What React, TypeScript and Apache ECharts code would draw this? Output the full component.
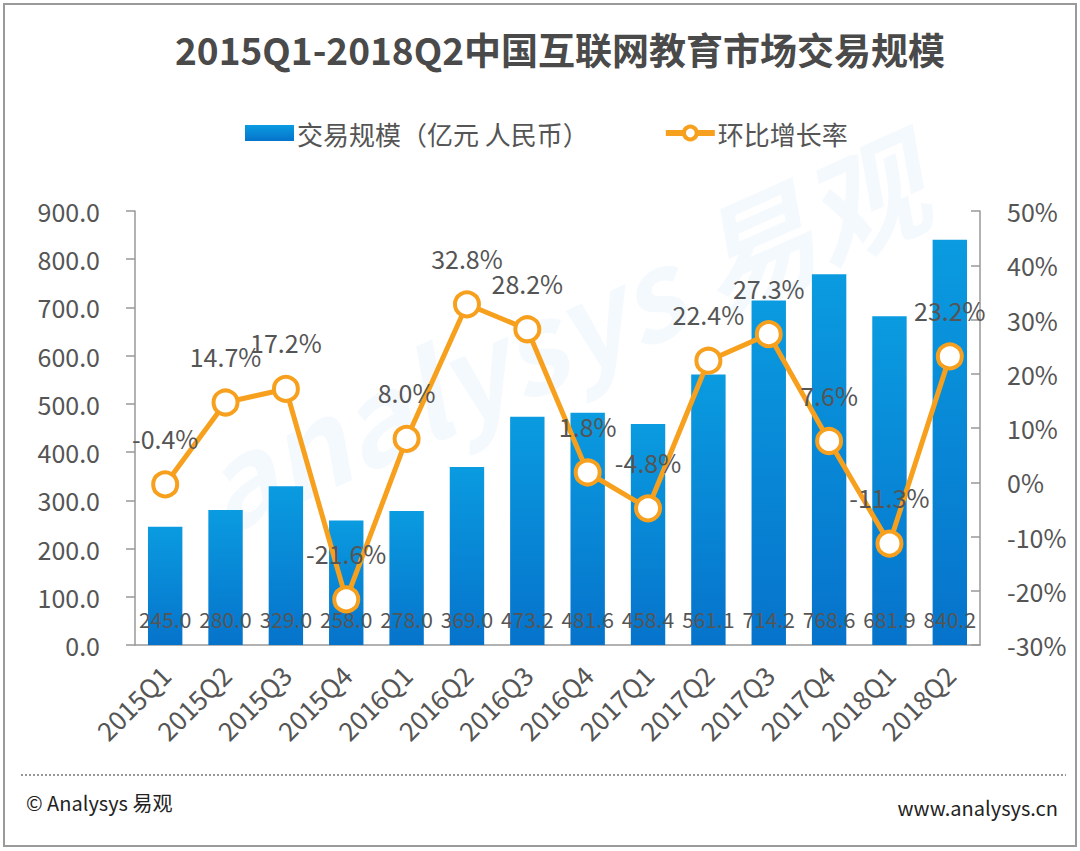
import React, { useEffect, useRef } from "react";
import * as echarts from "echarts";

const categories = [
  "2015Q1", "2015Q2", "2015Q3", "2015Q4",
  "2016Q1", "2016Q2", "2016Q3", "2016Q4",
  "2017Q1", "2017Q2", "2017Q3", "2017Q4",
  "2018Q1", "2018Q2",
];
const scaleValues = [245.0, 280.0, 329.0, 258.0, 278.0, 369.0, 473.2, 481.6, 458.4, 561.1, 714.2, 768.6, 681.9, 840.2];
const growthValues = [-0.4, 14.7, 17.2, -21.6, 8.0, 32.8, 28.2, 1.8, -4.8, 22.4, 27.3, 7.6, -11.3, 23.2];

const titleText = "2015Q1-2018Q2中国互联网教育市场交易规模";
const barName = "交易规模（亿元 人民币）";
const lineName = "环比增长率";

const FONT = "'Noto Sans CJK SC', 'Noto Sans', sans-serif";
const TEXT = "#555555";
const ORANGE = "#F7A01E";

export default function App() {
  const ref = useRef<HTMLDivElement>(null);

  useEffect(() => {
    document.body.style.margin = "0";
    if (!ref.current) return;
    const chart = echarts.init(ref.current, undefined, { renderer: "svg" });
    const option = {
      animation: false,
      backgroundColor: "#ffffff",
      textStyle: { fontFamily: FONT },
      title: {
        text: titleText,
        left: 170,
        top: 25,
        textStyle: { fontFamily: FONT, fontSize: 37, fontWeight: "bold", color: "#4a4a4a" },
      },
      legend: {
        top: 115,
        left: 240,
        itemGap: 74,
        itemWidth: 49,
        itemHeight: 16,
        textStyle: { fontFamily: FONT, fontSize: 26, color: TEXT, padding: [0, 0, 0, -2] },
        data: [
          { name: barName, icon: "rect" },
          {
            name: lineName,
            itemStyle: { color: "#ffffff", borderColor: ORANGE, borderWidth: 4 },
            lineStyle: { color: ORANGE, width: 6 },
          },
        ],
      },
      graphic: [
        {
          type: "text",
          z: -10,
          x: 560,
          y: 330,
          rotation: 0.42,
          style: {
            text: "analysys 易观",
            fontSize: 120,
            fontWeight: "bold",
            fontStyle: "italic",
            fontFamily: FONT,
            fill: "rgba(10,120,210,0.045)",
            align: "center",
            verticalAlign: "middle",
          },
        },
        {
          type: "rect",
          shape: { x: 4, y: 4, width: 1072, height: 842 },
          style: { fill: "none", stroke: "#9a9a9a", lineWidth: 2 },
          silent: true,
        },
        {
          type: "line",
          shape: { x1: 21, y1: 775, x2: 1066, y2: 775 },
          style: { stroke: "#777", lineWidth: 1.5, lineDash: [2, 2] },
        },
        {
          type: "text",
          x: 26,
          y: 802,
          style: {
            text: "© Analysys 易观",
            fontSize: 20,
            fontFamily: FONT,
            fill: "#222",
            verticalAlign: "middle",
          },
        },
        {
          type: "text",
          x: 1058,
          y: 807,
          style: {
            text: "www.analysys.cn",
            fontSize: 20,
            fontFamily: FONT,
            fill: "#222",
            align: "right",
            verticalAlign: "middle",
          },
        },
      ],
      grid: { left: 135, right: 100, top: 211, bottom: 206, containLabel: false },
      xAxis: {
        type: "category",
        data: categories,
        axisLine: { lineStyle: { color: "#999", width: 1.5 } },
        axisTick: { show: false },
        axisLabel: {
          rotate: 45,
          fontSize: 26,
          color: TEXT,
          fontFamily: FONT,
          margin: 25,
          interval: 0,
        },
      },
      yAxis: [
        {
          type: "value",
          min: 0,
          max: 900,
          interval: 100,
          splitLine: { show: false },
          axisLine: { show: true, lineStyle: { color: "#999", width: 1.5 } },
          axisTick: { show: true, length: 9, lineStyle: { color: "#999", width: 1.5 } },
          axisLabel: {
            fontSize: 25,
            color: TEXT,
            fontFamily: FONT,
            margin: 35,
            formatter: (v: number) => v.toFixed(1),
          },
        },
        {
          type: "value",
          min: -30,
          max: 50,
          interval: 10,
          position: "right",
          splitLine: { show: false },
          axisLine: { show: true, lineStyle: { color: "#999", width: 1.5 } },
          axisTick: { show: true, inside: true, length: 9, lineStyle: { color: "#999", width: 1.5 } },
          axisLabel: {
            fontSize: 25,
            color: TEXT,
            fontFamily: FONT,
            margin: 27,
            formatter: (v: number) => `${v}%`,
          },
        },
      ],
      series: [
        {
          name: barName,
          type: "bar",
          data: scaleValues,
          barWidth: "57%",
          itemStyle: {
            color: new echarts.graphic.LinearGradient(0, 0, 0, 1, [
              { offset: 0, color: "#0A9BE0" },
              { offset: 1, color: "#0673CB" },
            ]),
          },
          label: {
            show: true,
            position: "insideBottom",
            distance: 16,
            fontSize: 21,
            color: TEXT,
            fontFamily: FONT,
            formatter: (p: any) => Number(p.value).toFixed(1),
          },
        },
        {
          name: lineName,
          type: "line",
          yAxisIndex: 1,
          data: growthValues,
          symbol: "circle",
          symbolSize: 24,
          z: 5,
          lineStyle: { color: ORANGE, width: 5 },
          itemStyle: { color: "#ffffff", borderColor: ORANGE, borderWidth: 4 },
          label: {
            show: true,
            position: "top",
            distance: 20,
            fontSize: 25,
            color: TEXT,
            fontFamily: FONT,
            formatter: (p: any) => `${Number(p.value).toFixed(1)}%`,
          },
        },
      ],
    };
    chart.setOption(option as any);
    return () => chart.dispose();
  }, []);

  return <div ref={ref} style={{ width: 1080, height: 851 }} />;
}
